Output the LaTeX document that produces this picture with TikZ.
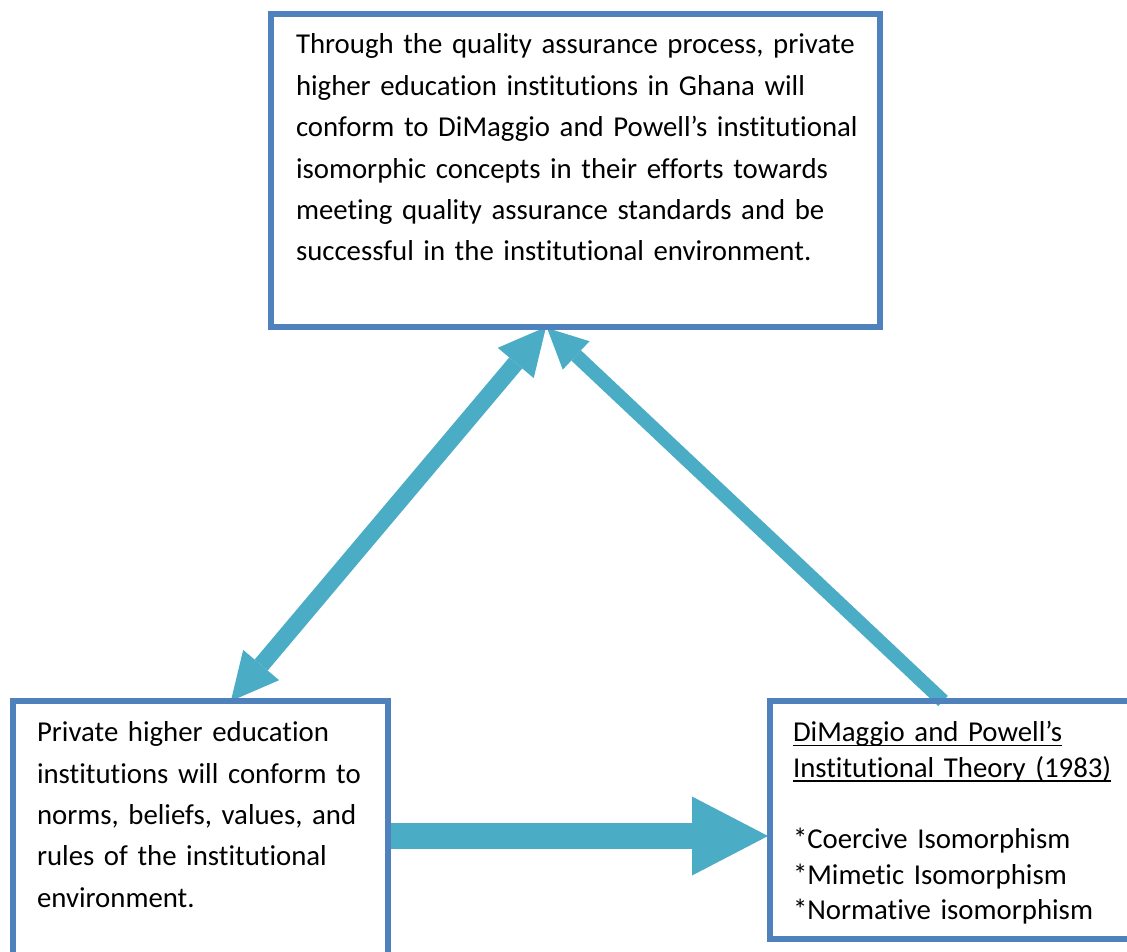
\documentclass[tikz,border=0pt]{standalone}
\usepackage{fontspec}
\setmainfont{Carlito}[Ligatures={NoCommon}]
\usetikzlibrary{arrows.meta,calc}
\definecolor{boxblue}{RGB}{79,129,189}
\definecolor{arrowteal}{RGB}{75,172,198}
\newcommand\ulinetxt[1]{\leavevmode\setbox0\hbox{#1}\rlap{\rule[-4.5pt]{\wd0}{1.8pt}}\box0}
\tikzset{
  box/.style={draw=boxblue, line width=6pt, rectangle, inner sep=0pt, outer sep=0pt},
  txt/.style={anchor=north west, inner sep=0pt, outer sep=0pt, align=left, text=black},
  conn/.style={draw=arrowteal, color=arrowteal},
}
\begin{document}
\begin{tikzpicture}[x=1pt,y=-1pt]
\fill[white] (0,0) rectangle (1127,951);
\useasboundingbox (0,0) rectangle (1127,951);
% boxes (geometry only, drawn later on top of arrows)
\path (575.5,170.5) node[minimum width=609pt, minimum height=313pt, inner sep=0pt, outer sep=0pt] (top) {};
\path (200.5,836) node[minimum width=375pt, minimum height=270pt, inner sep=0pt, outer sep=0pt] (lbox) {};
\path (955,820) node[minimum width=370pt, minimum height=238pt, inner sep=0pt, outer sep=0pt] (rbox) {};
% connectors
\coordinate (tipT) at ($(top.south west)!0.4516!(top.south east)$);
\coordinate (lstart) at ($(lbox.north west)!0.581!(lbox.north east)$);
\coordinate (rstart) at ($(rbox.north west)!0.4676!(rbox.north east)$);
\draw[conn, line width=17pt, {Triangle[length=47pt,width=47pt,line width=0pt]}-{Triangle[length=47pt,width=47pt,line width=0pt]}] (lstart) -- (tipT);
\draw[conn, line width=14pt, -{Triangle[length=40pt,width=39pt,line width=0pt]}] (rstart) -- ($(tipT)+(1,1)$);
\draw[conn, line width=26pt, -{Triangle[length=76pt,width=79pt,line width=0pt]}] (lbox.east) -- ($(lbox.east -| rbox.west)+(-2,0)$);
% box borders
\draw[box] (top.south west) rectangle (top.north east);
\draw[box] (lbox.south west) rectangle (lbox.north east);
\draw[box] (rbox.south west) rectangle (rbox.north east);
% texts
\node[txt, font=\fontsize{28.8}{41.4}\selectfont, text width=600pt] (toptext) at (296,25) {\strut Through the quality assurance process, private\\ higher education institutions in Ghana will\\ conform to DiMaggio and Powell’s institutional\\ isomorphic concepts in their efforts towards\\ meeting quality assurance standards and be\\ successful in the institutional environment.};
\node[txt, font=\fontsize{28.8}{41.3}\selectfont, text width=340pt] (ltext) at (37,713) {\strut Private higher education\\ institutions will conform to\\ norms, beliefs, values, and\\ rules of the institutional\\ environment.};
\node[txt, font=\fontsize{28.8}{35.6}\selectfont, text width=340pt] (rtext) at (793,717) {\strut\ulinetxt{DiMaggio and Powell’s}\\ \ulinetxt{Institutional Theory (1983)}\\[35.6pt] {*}Coercive Isomorphism\\ {*}Mimetic Isomorphism\\ {*}Normative isomorphism};
\end{tikzpicture}
\end{document}
